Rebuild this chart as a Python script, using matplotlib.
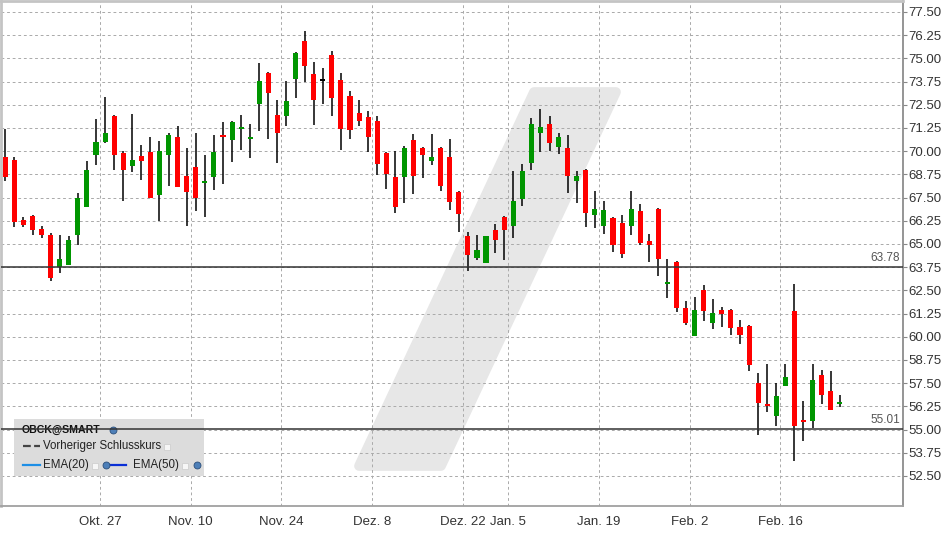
import numpy as np
import matplotlib.pyplot as plt
from matplotlib.patches import Rectangle, Polygon
from matplotlib.lines import Line2D

plt.rcParams['font.family'] = ['Liberation Sans', 'DejaVu Sans']

# daily OHLC (one candle per trading day)
opens = [69.69, 69.53, 66.29, 66.51, 65.81, 65.48, 63.76, 63.88, 65.50, 67.01,
         69.81, 70.50, 71.90, 69.90, 69.22, 69.74, 69.96, 67.66, 69.81, 70.76,
         68.66, 69.15, 68.30, 68.63, 70.87, 70.62, 71.21, 70.67, 72.56, 74.21,
         71.95, 71.91, 73.91, 75.94, 74.16, 73.85, 75.18, 73.84, 72.97, 72.06,
         71.84, 71.63, 69.90, 68.61, 68.63, 70.60, 70.17, 69.49, 70.17, 69.69,
         67.80, 65.43, 64.26, 63.99, 65.75, 66.45, 65.99, 67.44, 69.38, 71.00,
         71.47, 70.24, 70.17, 68.41, 68.99, 66.58, 65.99, 66.40, 66.13, 65.99,
         66.78, 65.16, 66.89, 62.86, 64.03, 61.57, 60.06, 62.52, 60.76, 61.44,
         61.44, 60.53, 60.58, 57.51, 56.38, 55.75, 57.37, 61.39, 55.52, 55.48,
         57.94, 57.08, 56.40]
highs = [71.20, 69.69, 66.45, 66.56, 65.97, 65.59, 65.48, 65.43, 67.75, 69.47,
         71.73, 72.92, 71.95, 69.99, 72.00, 70.33, 70.76, 70.55, 70.98, 71.36,
         70.17, 70.98, 69.80, 70.87, 71.57, 71.60, 71.95, 71.47, 74.75, 74.25,
         72.76, 73.78, 75.32, 76.48, 74.81, 74.48, 75.40, 74.21, 73.24, 72.76,
         72.17, 71.90, 69.96, 70.01, 70.28, 70.93, 70.20, 70.93, 70.20, 70.66,
         67.85, 65.65, 65.48, 65.45, 66.08, 66.48, 68.93, 69.31, 71.79, 72.27,
         71.90, 70.98, 70.87, 68.93, 69.02, 67.86, 67.32, 66.43, 66.56, 67.86,
         67.16, 65.54, 66.92, 64.19, 64.06, 61.93, 62.14, 62.79, 62.04, 61.61,
         61.47, 60.91, 60.61, 58.05, 58.53, 57.51, 58.53, 62.84, 56.54, 58.53,
         58.21, 58.16, 56.86]
lows = [68.41, 65.93, 65.93, 65.50, 65.34, 63.02, 63.45, 63.85, 64.96, 67.00,
        69.27, 70.45, 69.00, 67.33, 68.90, 68.46, 67.45, 66.26, 68.14, 68.05,
        65.99, 66.79, 66.47, 67.93, 68.22, 69.43, 70.08, 69.65, 71.10, 70.67,
        69.38, 71.37, 72.88, 73.74, 71.43, 72.56, 71.91, 70.08, 70.67, 71.37,
        69.97, 68.73, 67.98, 66.69, 67.22, 67.71, 68.57, 69.27, 67.87, 66.85,
        65.66, 63.56, 64.15, 63.97, 64.53, 64.15, 65.34, 67.06, 69.00, 69.97,
        70.03, 69.87, 67.76, 67.22, 65.93, 65.88, 65.55, 64.59, 64.26, 65.50,
        64.96, 64.05, 63.29, 62.11, 61.35, 60.65, 60.03, 60.87, 60.44, 60.54,
        60.11, 59.63, 58.17, 54.73, 55.96, 55.21, 57.35, 53.32, 54.40, 55.10,
        56.38, 56.05, 56.23]
closes = [68.63, 66.20, 66.04, 65.77, 65.50, 63.18, 64.19, 65.22, 67.48, 68.99,
          70.50, 70.98, 69.81, 69.00, 69.53, 69.49, 67.49, 70.01, 70.87, 68.09,
          67.82, 67.49, 68.39, 69.96, 70.78, 71.57, 71.30, 70.76, 73.78, 73.15,
          71.00, 72.70, 75.29, 74.61, 72.77, 73.85, 72.88, 71.21, 71.16, 71.64,
          70.78, 69.33, 68.79, 67.01, 70.17, 68.68, 69.81, 69.69, 68.14, 67.28,
          66.63, 64.42, 64.68, 65.43, 65.23, 65.77, 67.32, 68.93, 71.47, 71.30,
          70.46, 70.76, 68.68, 68.66, 66.69, 66.89, 66.83, 64.96, 64.48, 66.89,
          65.07, 64.96, 64.21, 62.95, 61.57, 60.76, 61.44, 61.41, 61.28, 61.24,
          60.49, 60.11, 58.50, 56.45, 56.29, 56.81, 57.83, 55.21, 55.43, 57.67,
          56.88, 56.07, 56.49]

date_labels = ["Okt. 27", "Nov. 10", "Nov. 24", "Dez. 8", "Dez. 22",
               "Jan. 5", "Jan. 19", "Feb. 2", "Feb. 16"]
date_idx = [11, 21, 31, 41, 51, 56, 66, 76, 86]   # first candle of each date

ref_lines = [63.78, 55.01]
y_ticks = np.arange(52.5, 77.51, 1.25)

W, H = 948, 534
fig = plt.figure(figsize=(W / 100, H / 100), dpi=100)
# axes box in pixels: x 1..903, y 1..506 (from top)
ax = fig.add_axes([1 / W, 1 - 506 / H, 902 / W, 505 / H])

n = len(opens)
xs = np.arange(n)
o = np.array(opens)
c = np.array(closes)
cols = np.where(c > o, '#009600', np.where(c < o, '#ff0000', '#000000'))

# wicks and bodies
ax.vlines(xs, lows, highs, color='black', linewidth=1.1, zorder=3)
body_h = np.maximum(np.abs(c - o), 0.09)
body_b = np.minimum(o, c) - np.where(np.abs(c - o) < 0.09, 0.045, 0)
ax.bar(xs, body_h, bottom=body_b, width=0.56, color=cols, edgecolor='none',
       zorder=4)

x_lo, x_hi = -0.474, 98.97
y_lo, y_hi = 50.88, 78.09
ax.set_xlim(x_lo, x_hi)
ax.set_ylim(y_lo, y_hi)


def px2data(px, py):
    return (x_lo + (px - 1) / 902 * (x_hi - x_lo),
            y_hi - (py - 1) / 505 * (y_hi - y_lo))


# light watermark band
band = [px2data(*p) for p in [(359, 466), (441, 466), (616, 92), (534, 92)]]
ax.add_patch(Polygon(band, closed=True, facecolor='#e7e7e7', edgecolor='#e7e7e7',
                     linewidth=7, joinstyle='round', zorder=0.2))

# reference price lines
for v in ref_lines:
    ax.axhline(v, color='#333333', linewidth=1.1, zorder=5)
    ax.text(899 / 902, (v - y_lo) / (y_hi - y_lo) + 0.006, "%.2f" % v,
            transform=ax.transAxes, ha='right', va='bottom', fontsize=8.5,
            color='#555555', zorder=6)

# grid
ax.set_axisbelow(True)
ax.set_xticks([i - 0.55 for i in date_idx])
ax.set_xticklabels(date_labels)
ax.set_yticks(y_ticks)
ax.set_yticklabels(["%.2f" % v for v in y_ticks])
ax.grid(True, color='#ababab', linestyle=(0, (2.8, 2.8)), linewidth=0.72)
ax.yaxis.tick_right()
ax.tick_params(axis='y', labelsize=9.5, labelcolor='#333333', color='#888888',
               length=3, pad=1)
ax.tick_params(axis='x', labelsize=9.5, labelcolor='#333333', length=0, pad=7)

for side in ['left', 'top']:
    ax.spines[side].set_color('#c4c4c4')
    ax.spines[side].set_linewidth(2)
ax.spines['right'].set_color('#8c8c8c')
ax.spines['right'].set_linewidth(1.3)
ax.spines['bottom'].set_color('#a0a0a0')
ax.spines['bottom'].set_linewidth(1.3)


# legend box (pixel positions converted to axes fractions)
def axf(px, py):
    return ((px - 1) / 902, (506 - py) / 505)


x0, y0 = axf(14, 476)
x1, y1 = axf(204, 419)
ax.add_patch(Rectangle((x0, y0), x1 - x0, y1 - y0, transform=ax.transAxes,
                       facecolor='#dcdcdc', edgecolor='none', zorder=4.5))

ax.text(*axf(22, 430), "OBCK@SMART", transform=ax.transAxes, fontsize=7.6,
        fontweight='bold', color='#111111', va='center', zorder=4.6)
ax.text(*axf(43, 446), "Vorheriger Schlusskurs", transform=ax.transAxes,
        fontsize=8.3, color='#222222', va='center', zorder=4.6)
ax.text(*axf(43, 465), "EMA(20)", transform=ax.transAxes,
        fontsize=8.3, color='#222222', va='center', zorder=4.6)
ax.text(*axf(133, 465), "EMA(50)", transform=ax.transAxes,
        fontsize=8.3, color='#222222', va='center', zorder=4.6)

a, b = axf(23, 446), axf(40, 446)
ax.add_line(Line2D([a[0], b[0]], [a[1], b[1]], transform=ax.transAxes,
                   color='#444444', linewidth=1.6, linestyle=(0, (3.5, 1.5)),
                   zorder=4.6))
a, b = axf(23, 465), axf(40, 465)
ax.add_line(Line2D([a[0], b[0]], [a[1], b[1]], transform=ax.transAxes,
                   color='#1e8fe6', linewidth=1.6, zorder=4.6))
a, b = axf(108, 465), axf(126, 465)
ax.add_line(Line2D([a[0], b[0]], [a[1], b[1]], transform=ax.transAxes,
                   color='#0a2fd6', linewidth=1.6, zorder=4.6))

for px, py in [(167, 447), (95, 466), (185, 466)]:
    p = axf(px, py)
    ax.plot(*p, marker='s', markersize=5, markerfacecolor='#f6f6f6',
            markeredgecolor='#cfcfcf', markeredgewidth=0.6,
            transform=ax.transAxes, zorder=4.7, clip_on=False)
for px, py in [(113, 430), (106, 465), (197, 465)]:
    p = axf(px, py)
    ax.plot(*p, marker='o', markersize=5, markerfacecolor='#4d7fb8',
            markeredgecolor='#2b4f7a', markeredgewidth=0.6,
            transform=ax.transAxes, zorder=4.7, clip_on=False)

fig.savefig("out.png", dpi=100)
